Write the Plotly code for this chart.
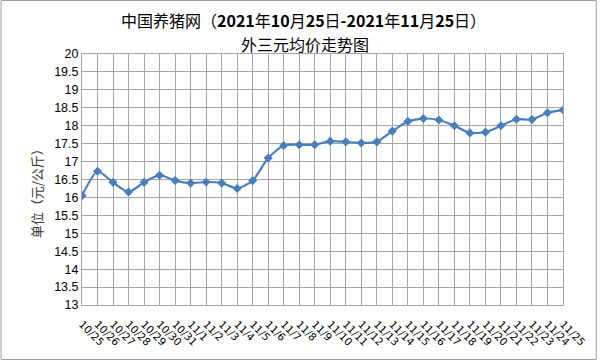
import plotly.graph_objects as go

dates = ["10/25", "10/26", "10/27", "10/28", "10/29", "10/30", "10/31",
         "11/1", "11/2", "11/3", "11/4", "11/5", "11/6", "11/7", "11/8", "11/9",
         "11/10", "11/11", "11/12", "11/13", "11/14", "11/15", "11/16", "11/17",
         "11/18", "11/19", "11/20", "11/21", "11/22", "11/23", "11/24", "11/25"]
prices = [16.05, 16.73, 16.42, 16.15, 16.42, 16.62, 16.47,
          16.40, 16.43, 16.40, 16.25, 16.47, 17.10, 17.45, 17.47, 17.47,
          17.57, 17.55, 17.52, 17.55, 17.85, 18.12, 18.20, 18.16,
          18.00, 17.80, 17.82, 18.00, 18.18, 18.17, 18.36, 18.44]
y_ticks = [13, 13.5, 14, 14.5, 15, 15.5, 16, 16.5, 17, 17.5, 18, 18.5, 19, 19.5, 20]
title_line1 = "中国养猪网（<b>2021</b>年<b>10</b>月<b>25</b>日<b>-2021</b>年<b>11</b>月<b>25</b>日）"
title_line2 = "外三元均价走势图"
y_title = "单位（元/公斤）"

W, H = 600, 360
L, R, T, B = 82, 34, 54, 55
pw = W - L - R
ph = H - T - B

fig = go.Figure(go.Scatter(
    x=list(range(len(dates))), y=prices, mode="lines+markers",
    line=dict(color="#4a7ebb", width=2.2, shape="spline", smoothing=0.6),
    marker=dict(symbol="diamond", size=7, color="#4a7ebb"),
))

def py(pix):
    return (H - B - pix) / ph

def px(pix):
    return (pix - L) / pw

fig.update_layout(
    width=W, height=H,
    margin=dict(l=L, r=R, t=T, b=B),
    paper_bgcolor="white", plot_bgcolor="white",
    showlegend=False,
    font=dict(family="Noto Sans CJK SC, Liberation Sans", color="#000"),
    xaxis=dict(
        range=[0, len(dates) - 1],
        tickmode="array", tickvals=list(range(len(dates))), ticktext=dates,
        tickangle=45, tickfont=dict(size=10.5, family="DejaVu Sans"),
        ticklabelstandoff=8,
        showgrid=True, gridcolor="#a6a6a6", gridwidth=1,
        showline=True, linecolor="#a6a6a6", mirror=True,
        ticks="", zeroline=False,
    ),
    yaxis=dict(
        range=[13, 20], tickmode="array", tickvals=y_ticks,
        ticktext=[("%g" % v) for v in y_ticks],
        tickfont=dict(size=12.5, family="Liberation Sans"),
        showgrid=True, gridcolor="#a6a6a6", gridwidth=1,
        showline=True, linecolor="#a6a6a6", mirror=True,
        ticks="", zeroline=False,
    ),
    annotations=[
        dict(text=title_line1, xref="paper", yref="paper", x=px(305), y=py(20),
             xanchor="center", yanchor="middle", showarrow=False,
             font=dict(size=16, family="Noto Sans CJK SC")),
        dict(text=title_line2, xref="paper", yref="paper", x=px(306), y=py(44),
             xanchor="center", yanchor="middle", showarrow=False,
             font=dict(size=16, family="Noto Sans CJK SC")),
        dict(text=y_title, xref="paper", yref="paper", x=px(36), y=py(190),
             xanchor="center", yanchor="middle", showarrow=False, textangle=-90,
             font=dict(size=13, family="Noto Sans CJK SC", color="#333")),
    ],
    shapes=[dict(
        type="rect", xref="paper", yref="paper",
        x0=(-L + 0.5) / pw, x1=(W - L - 0.5) / pw,
        y0=(-B + 0.5) / ph, y1=(H - B - 0.5) / ph,
        line=dict(color="#a0a0a0", width=1),
    )],
)

fig.write_html("out.html")
